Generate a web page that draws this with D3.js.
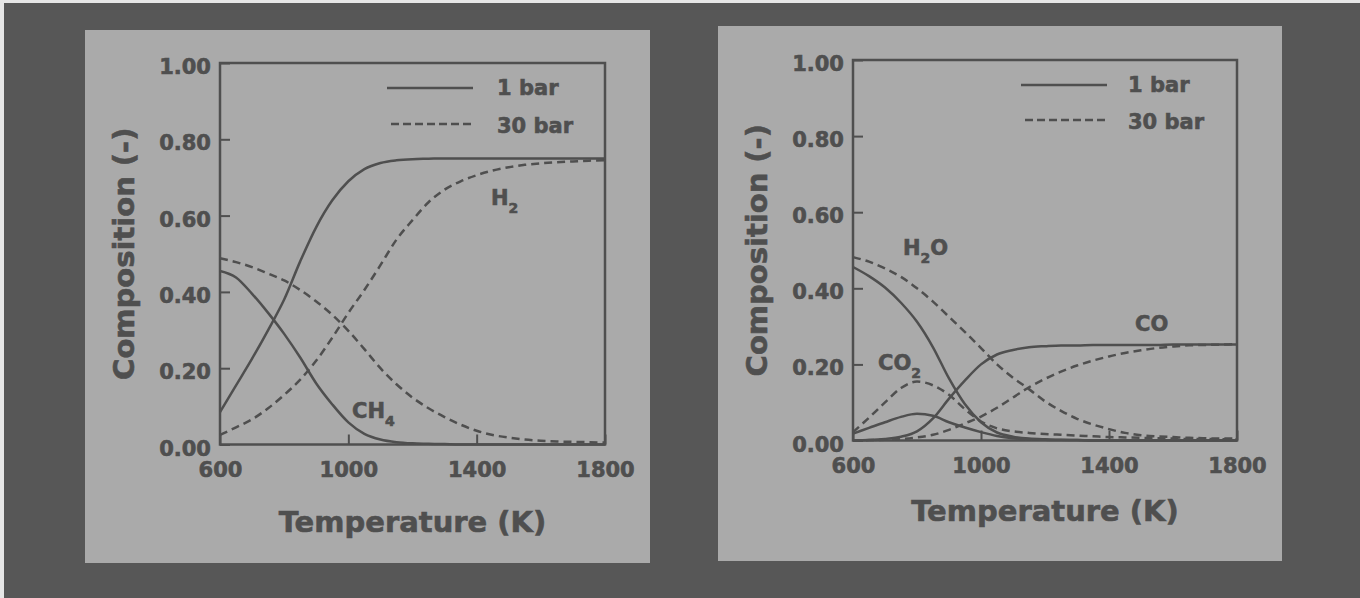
<!DOCTYPE html>
<html><head><meta charset="utf-8">
<script src="https://cdn.jsdelivr.net/npm/d3@7"></script>
<style>html,body{margin:0;padding:0;background:#575757;} svg{display:block;} text{stroke:#4f4f4f;stroke-width:0.6px;}</style>
</head><body><svg id="c" width="1360" height="598"></svg>
<script>
// ---------- data ----------
const temperatures = [600,650,700,750,800,850,900,950,1000,1050,1100,1150,1200,1250,1300,1350,1400,1450,1500,1550,1600,1650,1700,1750,1800];
const yTicks = [0, 0.2, 0.4, 0.6, 0.8, 1.0];
const xTicks = [600, 1000, 1400, 1800];
const legendLabels = ["1 bar", "30 bar"];
const xTitle = "Temperature (K)";
const yTitle = "Composition (-)";

// left panel
const h2_1bar  = [0.085,0.155,0.225,0.30,0.38,0.48,0.57,0.64,0.69,0.722,0.738,0.745,0.748,0.749,0.75,0.75,0.75,0.75,0.75,0.75,0.75,0.75,0.75,0.75,0.75];
const ch4_1bar = [0.455,0.438,0.395,0.345,0.29,0.228,0.16,0.105,0.058,0.028,0.013,0.006,0.003,0.002,0.001,0,0,0,0,0,0,0,0,0,0];
const h2_30bar = [0.025,0.045,0.066,0.095,0.13,0.17,0.22,0.28,0.345,0.405,0.47,0.537,0.588,0.635,0.668,0.69,0.706,0.718,0.727,0.733,0.737,0.74,0.742,0.744,0.745];
const ch4_30bar= [0.488,0.478,0.465,0.448,0.43,0.405,0.375,0.34,0.298,0.25,0.20,0.158,0.123,0.095,0.072,0.052,0.036,0.025,0.018,0.013,0.010,0.008,0.007,0.006,0.005];

// right panel
const h2o_1bar = [0.456,0.432,0.402,0.362,0.312,0.245,0.163,0.095,0.048,0.021,0.010,0.005,0.003,0.002,0.001,0,0,0,0,0,0,0,0,0,0];
const h2o_30bar= [0.482,0.47,0.452,0.43,0.40,0.365,0.325,0.285,0.243,0.20,0.165,0.135,0.103,0.078,0.057,0.042,0.030,0.020,0.014,0.011,0.009,0.007,0.006,0.005,0.005];
const co2_1bar = [0.018,0.033,0.048,0.062,0.07,0.065,0.048,0.034,0.022,0.012,0.006,0.003,0.002,0.001,0.001,0,0,0,0,0,0,0,0,0,0];
const co2_30bar= [0.022,0.06,0.10,0.138,0.155,0.145,0.12,0.082,0.05,0.032,0.024,0.020,0.017,0.015,0.013,0.011,0.009,0.008,0.007,0.006,0.005,0.004,0.004,0.003,0.003];
const co_1bar  = [0,0.001,0.004,0.01,0.024,0.058,0.11,0.158,0.20,0.226,0.238,0.245,0.248,0.25,0.25,0.251,0.251,0.251,0.251,0.251,0.252,0.252,0.252,0.252,0.252];
const co_30bar = [0,0.001,0.002,0.004,0.008,0.015,0.028,0.045,0.063,0.086,0.113,0.14,0.162,0.181,0.197,0.21,0.221,0.23,0.237,0.243,0.247,0.25,0.251,0.252,0.253];

// ---------- drawing ----------
const INK = "#4f4f4f";
const FONT = "'DejaVu Sans', sans-serif";
const svg = d3.select("#c");

svg.append("rect").attr("x",0).attr("y",0).attr("width",1360).attr("height",598).attr("fill","#575757");
svg.append("rect").attr("x",0).attr("y",0).attr("width",1360).attr("height",3).attr("fill","#e6e6e6");
svg.append("rect").attr("x",0).attr("y",0).attr("width",4).attr("height",598).attr("fill","#e6e6e6");

const panels = [
  { bg:{x:85,y:30,w:565,h:533}, plot:{x0:220,x1:605,y0:444.5,y1:63}, yTitleX:134, xTitleY:532,
    legend:{x1:387,x2:473,yS:88,yD:124,tx:497},
    series:[
      {v:h2_1bar, dash:false},{v:ch4_1bar, dash:false},
      {v:h2_30bar, dash:true},{v:ch4_30bar, dash:true}],
    labels:[
      {x:352, y:418, parts:[["CH",0],["4",1]]},
      {x:491, y:205, parts:[["H",0],["2",1]]}
    ]},
  { bg:{x:718,y:26,w:564,h:535}, plot:{x0:853,x1:1237,y0:440.5,y1:60}, yTitleX:767, xTitleY:521,
    legend:{x1:1021,x2:1107,yS:85,yD:120,tx:1128},
    series:[
      {v:h2o_1bar, dash:false},{v:co2_1bar, dash:false},{v:co_1bar, dash:false},
      {v:h2o_30bar, dash:true},{v:co2_30bar, dash:true},{v:co_30bar, dash:true}],
    labels:[
      {x:903, y:255, parts:[["H",0],["2",1],["O",0]]},
      {x:878, y:370, parts:[["CO",0],["2",1]]},
      {x:1135, y:331, parts:[["CO",0]]}
    ]}
];

panels.forEach(p => {
  const g = svg.append("g");
  g.append("rect").attr("x",p.bg.x).attr("y",p.bg.y).attr("width",p.bg.w).attr("height",p.bg.h).attr("fill","#aaaaaa");

  const x = d3.scaleLinear().domain([600,1800]).range([p.plot.x0,p.plot.x1]);
  const y = d3.scaleLinear().domain([0,1]).range([p.plot.y0,p.plot.y1]);

  // y axis
  const ya = g.append("g").attr("transform",`translate(${p.plot.x0},0)`)
    .call(d3.axisLeft(y).tickValues(yTicks).tickFormat(d3.format(".2f")).tickSizeInner(-10).tickSizeOuter(0).tickPadding(9));
  ya.select(".domain").remove();
  ya.selectAll("line").attr("stroke",INK).attr("stroke-width",2);
  ya.selectAll("text").attr("fill",INK).attr("font-family",FONT).attr("font-weight","bold").attr("font-size",21)
    .attr("dy",null).attr("dx",null).attr("y",10.5);

  // x axis
  const xa = g.append("g").attr("transform",`translate(0,${p.plot.y0})`)
    .call(d3.axisBottom(x).tickValues(xTicks).tickFormat(d3.format("d")).tickSizeInner(-10).tickSizeOuter(0));
  xa.select(".domain").remove();
  xa.selectAll("line").attr("stroke",INK).attr("stroke-width",2);
  xa.selectAll("text").attr("fill",INK).attr("font-family",FONT).attr("font-weight","bold").attr("font-size",21)
    .attr("dy",null).attr("y",32.5);

  // frame
  g.append("rect").attr("x",p.plot.x0).attr("y",p.plot.y1)
    .attr("width",p.plot.x1-p.plot.x0).attr("height",p.plot.y0-p.plot.y1)
    .attr("fill","none").attr("stroke",INK).attr("stroke-width",2.5);

  // curves
  const line = d3.line().x((d,i)=>x(temperatures[i])).y(d=>y(d)).curve(d3.curveMonotoneX);
  p.series.forEach(s => {
    g.append("path").attr("d",line(s.v)).attr("fill","none").attr("stroke",INK)
      .attr("stroke-width",2.5).attr("stroke-dasharray", s.dash ? "8,5" : null);
  });

  // legend
  g.append("line").attr("x1",p.legend.x1).attr("x2",p.legend.x2).attr("y1",p.legend.yS).attr("y2",p.legend.yS)
    .attr("stroke",INK).attr("stroke-width",2.5);
  g.append("line").attr("x1",p.legend.x1+4).attr("x2",p.legend.x2).attr("y1",p.legend.yD).attr("y2",p.legend.yD)
    .attr("stroke",INK).attr("stroke-width",2.5).attr("stroke-dasharray","8,4");
  [[legendLabels[0],p.legend.yS+7],[legendLabels[1],p.legend.yD+9]].forEach(([t,yy]) => {
    g.append("text").attr("x",p.legend.tx).attr("y",yy).text(t)
      .attr("fill",INK).attr("font-family",FONT).attr("font-weight","bold").attr("font-size",21);
  });

  // titles
  g.append("text").attr("x",(p.plot.x0+p.plot.x1)/2).attr("y",p.xTitleY).attr("text-anchor","middle")
    .text(xTitle).attr("fill",INK).attr("font-family",FONT).attr("font-weight","bold").attr("font-size",29);
  g.append("text").attr("transform",`translate(${p.yTitleX},${(p.plot.y0+p.plot.y1)/2}) rotate(-90)`)
    .attr("text-anchor","middle").text(yTitle)
    .attr("fill",INK).attr("font-family",FONT).attr("font-weight","bold").attr("font-size",29);

  // series labels
  p.labels.forEach(l => {
    const t = g.append("text").attr("x",l.x).attr("y",l.y)
      .attr("fill",INK).attr("font-family",FONT).attr("font-weight","bold").attr("font-size",21);
    let prevSub = 0;
    l.parts.forEach(([s,sub]) => {
      const dy = sub ? 8 : (prevSub ? -8 : 0);
      t.append("tspan").attr("dy",dy).attr("font-size", sub ? 14 : 21).text(s);
      prevSub = sub;
    });
  });
});
</script>
</body></html>
